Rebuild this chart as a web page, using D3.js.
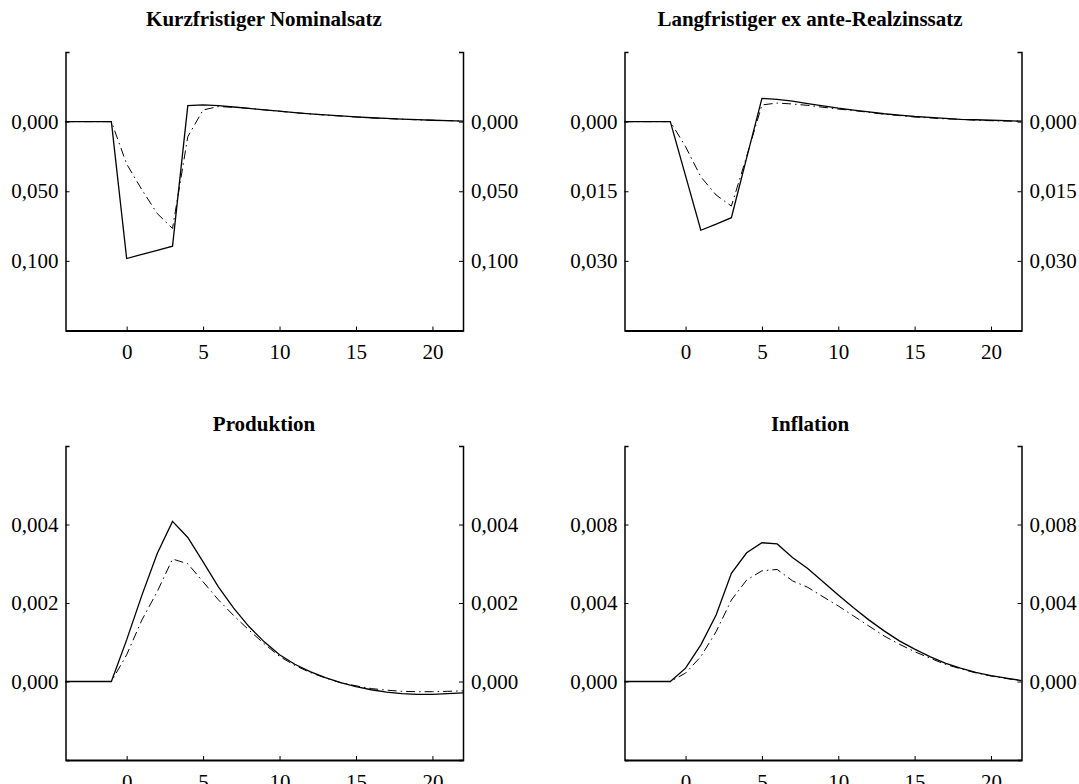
<!DOCTYPE html>
<html>
<head>
<meta charset="utf-8">
<script src="https://cdn.jsdelivr.net/npm/d3@7"></script>
<style>
  body { margin: 0; background: #fff; }
  svg { display: block; font-family: "Liberation Serif", "DejaVu Serif", serif; }
  .axis path, .axis line { stroke: #000; }
  .axis text { font-family: "Liberation Serif", "DejaVu Serif", serif; font-size: 21px; fill: #000; }
  .title { font-size: 21px; font-weight: bold; }
</style>
</head>
<body>
<div id="chart"></div>
<script>
// periods -4 .. 22
var periods = d3.range(-4, 23);
var xTicks = [0, 5, 10, 15, 20];

var nomSolid = [0, 0, 0, 0, -0.0983, -0.0953, -0.0924, -0.0894, 0.0115, 0.0120, 0.0115, 0.0105, 0.0095, 0.0085,
  0.0075, 0.0065, 0.0056, 0.0048, 0.0041, 0.0034, 0.0028, 0.0023, 0.0018, 0.0014, 0.0010, 0.0007, 0.0004];
var nomDash = [0, 0, 0, 0, -0.0304, -0.0490, -0.0660, -0.0767, -0.0108, 0.0084, 0.0108, 0.0103, 0.0095, 0.0085,
  0.0074, 0.0064, 0.0055, 0.0047, 0.0040, 0.0033, 0.0027, 0.0022, 0.0017, 0.0013, 0.0010, 0.0007, 0.0004];

var realSolid = [0, 0, 0, 0, -0.0117, -0.0234, -0.0221, -0.0207, -0.0078, 0.0050, 0.0048, 0.0044, 0.0039, 0.0034,
  0.0029, 0.0025, 0.0021, 0.0017, 0.0014, 0.0011, 0.0009, 0.0007, 0.0005, 0.0004, 0.0003, 0.0002, 0.0001];
var realDash = [0, 0, 0, 0, -0.0054, -0.0119, -0.0158, -0.0182, -0.0075, 0.0036, 0.0040, 0.0038, 0.0035, 0.0031,
  0.0027, 0.0024, 0.0020, 0.0016, 0.0013, 0.0010, 0.0008, 0.0006, 0.0005, 0.0003, 0.0002, 0.0001, 0.0001];

var prodSolid = [0, 0, 0, 0, 0.00106, 0.00220, 0.00326, 0.00408, 0.00367, 0.00305, 0.00241, 0.00187, 0.00140, 0.00101,
  0.00068, 0.00044, 0.00025, 0.00010, -0.00003, -0.00013, -0.00021, -0.00027, -0.00031, -0.00033, -0.00033, -0.00031, -0.00029];
var prodDash = [0, 0, 0, 0, 0.00068, 0.00157, 0.00229, 0.00312, 0.00300, 0.00254, 0.00208, 0.00168, 0.00131, 0.00096,
  0.00064, 0.00041, 0.00023, 0.00009, -0.00003, -0.00011, -0.00018, -0.00022, -0.00025, -0.00026, -0.00026, -0.00025, -0.00024];

var inflSolid = [0, 0, 0, 0, 0.00068, 0.00187, 0.00339, 0.00551, 0.00656, 0.00707, 0.00701, 0.00632, 0.00576, 0.00508,
  0.00441, 0.00376, 0.00314, 0.00258, 0.00207, 0.00165, 0.00127, 0.00094, 0.00068, 0.00046, 0.00030, 0.00017, 0.00005];
var inflDash = [0, 0, 0, 0, 0.00043, 0.00127, 0.00254, 0.00415, 0.00517, 0.00564, 0.00571, 0.00513, 0.00480, 0.00432,
  0.00385, 0.00334, 0.00283, 0.00232, 0.00190, 0.00152, 0.00119, 0.00088, 0.00065, 0.00044, 0.00028, 0.00015, 0.00004];

var titles = ["Kurzfristiger Nominalsatz", "Langfristiger ex ante-Realzinssatz", "Produktion", "Inflation"];
var yDomains = [[-0.15, 0.05], [-0.045, 0.015], [-0.002, 0.006], [-0.004, 0.012]];
var yTicks = [[0, -0.05, -0.1], [0, -0.015, -0.03], [0, 0.002, 0.004], [0, 0.004, 0.008]];
var solids = [nomSolid, realSolid, prodSolid, inflSolid];
var dashes = [nomDash, realDash, prodDash, inflDash];

var W = 1079, H = 784;
var cols = [[65.5, 463], [624.5, 1021.5]];
var rows = [[52, 330.5], [446, 760]];
var titleX = [264, 810];
var titleY = [26, 431];

var svg = d3.select("#chart").append("svg")
    .attr("width", W)
    .attr("height", H);
svg.append("rect").attr("width", W).attr("height", H).attr("fill", "#fff");

var locale = d3.formatLocale({decimal: ",", thousands: ".", grouping: [3], currency: ["", ""]});
var fmt = locale.format(".3f");

titles.forEach(function(title, i) {
  var c = i % 2, r = Math.floor(i / 2);
  var x = d3.scaleLinear().domain([-4, 22]).range(cols[c]);
  var y = d3.scaleLinear().domain(yDomains[i]).range([rows[r][1], rows[r][0]]);
  var g = svg.append("g");

  var tf = function(d) { return fmt(Math.abs(d)); };

  g.append("g")
      .attr("class", "axis")
      .attr("transform", "translate(" + cols[c][0] + ",0)")
      .call(d3.axisLeft(y).tickValues(yTicks[i]).tickFormat(tf).tickSize(-4).tickPadding(7))
      .call(function(a) { a.select(".domain").attr("stroke-width", 1.5); });

  g.append("g")
      .attr("class", "axis")
      .attr("transform", "translate(" + cols[c][1] + ",0)")
      .call(d3.axisRight(y).tickValues(yTicks[i]).tickFormat(tf).tickSize(-4).tickPadding(8))
      .call(function(a) { a.select(".domain").attr("stroke-width", 1.5); });

  g.append("g")
      .attr("class", "axis")
      .attr("transform", "translate(0," + rows[r][1] + ")")
      .call(d3.axisBottom(x).tickValues(xTicks).tickSize(-4).tickSizeOuter(0).tickPadding(14))
      .call(function(a) { a.select(".domain").attr("stroke-width", 2); });

  g.append("text")
      .attr("class", "title")
      .attr("x", titleX[c])
      .attr("y", titleY[r])
      .attr("text-anchor", "middle")
      .text(title);

  var line = d3.line()
      .x(function(d, k) { return x(periods[k]); })
      .y(function(d) { return y(d); });

  g.append("path")
      .datum(dashes[i])
      .attr("fill", "none")
      .attr("stroke", "#000")
      .attr("stroke-width", 1)
      .attr("stroke-dasharray", "9,4,1.5,4")
      .attr("d", line);

  g.append("path")
      .datum(solids[i])
      .attr("fill", "none")
      .attr("stroke", "#000")
      .attr("stroke-width", 1.3)
      .attr("d", line);
});
</script>
</body>
</html>
